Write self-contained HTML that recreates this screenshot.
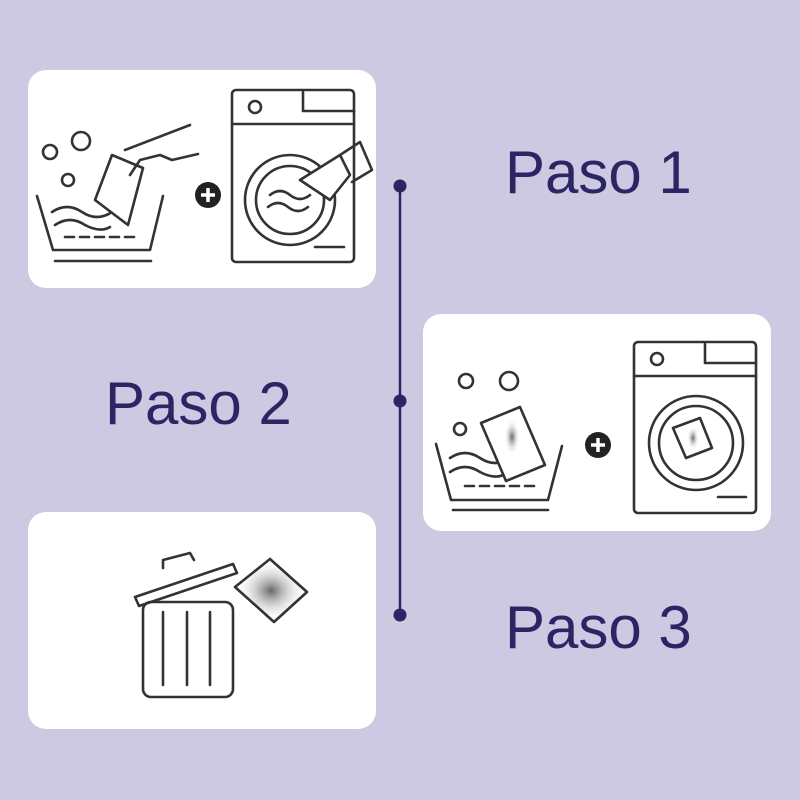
<!DOCTYPE html>
<html><head><style>
html,body{margin:0;padding:0;background:#cdc9e3;}
svg{display:block}
text{font-family:"Liberation Sans",sans-serif;fill:#2b2563;}
</style></head><body>
<svg width="800" height="800" viewBox="0 0 800 800">
<defs>
<radialGradient id="g"><stop offset="0" stop-color="#666"/><stop offset="1" stop-color="#fff" stop-opacity="0"/></radialGradient>
</defs>
<rect width="800" height="800" fill="#cdc9e3"/>
<rect x="28" y="70" width="348" height="218" rx="18" fill="#fff"/>
<rect x="423" y="314" width="348" height="217" rx="18" fill="#fff"/>
<rect x="28" y="512" width="348" height="217" rx="18" fill="#fff"/>
<line x1="400" y1="186" x2="400" y2="615" stroke="#2b2563" stroke-width="2.5"/>
<circle cx="400" cy="186" r="6.5" fill="#2b2563"/>
<circle cx="400" cy="401" r="6.5" fill="#2b2563"/>
<circle cx="400" cy="615" r="6.5" fill="#2b2563"/>
<text x="505" y="193" font-size="60">Paso 1</text>
<text x="105" y="424" font-size="60">Paso 2</text>
<text x="505" y="648" font-size="60">Paso 3</text>

<!-- plus circles -->
<circle cx="208" cy="195" r="13" fill="#222"/>
<path d="M201 195 H215 M208 188 V202" stroke="#fff" stroke-width="3.5"/>
<circle cx="598" cy="445" r="13" fill="#222"/>
<path d="M591 445 H605 M598 438 V452" stroke="#fff" stroke-width="3.5"/>

<g fill="none" stroke="#333" stroke-width="2.6" stroke-linecap="round" stroke-linejoin="round">
<!-- panel 1 -->
<path d="M37 196 L53 250 L150 250 L163 196"/>
<line x1="55" y1="261" x2="151" y2="261"/>
<path d="M65 237 H140" stroke-dasharray="9 6"/>
<circle cx="50" cy="152" r="7"/><circle cx="81" cy="141" r="9"/><circle cx="68" cy="180" r="6"/>
<path d="M52 212 q15 -10 30 0 q15 10 30 0 M55 225 q15 -10 30 0 q15 8 25 2"/>
<path d="M95 200 L112 155 L143 168 L128 225 Z" fill="#fff"/>
<path d="M125 150 L190 125 M130 175 L140 160 L160 155 L172 160 L198 154"/>
<rect x="232" y="90" width="122" height="172" rx="4"/>
<line x1="232" y1="124" x2="354" y2="124"/>
<circle cx="255" cy="107" r="6"/>
<path d="M303 92 V111 H354"/>
<circle cx="290" cy="200" r="45"/>
<circle cx="290" cy="200" r="34"/>
<path d="M270 195 q10 -8 20 0 q10 8 20 0 M268 207 q10 -8 20 0 q10 8 20 0"/>
<line x1="315" y1="247" x2="344" y2="247"/>
<path d="M300 180 L340 155 L350 175 L330 200 Z" fill="#fff"/>
<path d="M340 155 L360 142 L372 170 L352 182"/>
<!-- panel 2 -->
<path d="M436 444 L451 500 L548 500 L562 446"/>
<line x1="453" y1="510" x2="548" y2="510"/>
<path d="M465 486 H540" stroke-dasharray="9 6"/>
<circle cx="466" cy="381" r="7"/><circle cx="509" cy="381" r="9"/><circle cx="460" cy="429" r="6"/>
<path d="M450 458 q15 -10 30 0 q15 10 30 0 M450 472 q15 -10 30 0 q15 8 25 2"/>
<path d="M481 423 L520 407 L545 465 L506 481 Z" fill="#fff"/>
<rect x="634" y="342" width="122" height="171" rx="4"/>
<line x1="634" y1="376" x2="756" y2="376"/>
<circle cx="657" cy="359" r="6"/>
<path d="M705 344 V363 H756"/>
<circle cx="696" cy="443" r="47"/>
<circle cx="696" cy="443" r="37"/>
<path d="M673 428 L700 418 L712 448 L686 458 Z" fill="#fff"/>
<line x1="718" y1="497" x2="746" y2="497"/>
<!-- panel 3 -->
<rect x="143" y="602" width="90" height="95" rx="8"/>
<line x1="163" y1="612" x2="163" y2="685"/><line x1="187" y1="612" x2="187" y2="685"/><line x1="210" y1="612" x2="210" y2="685"/>
<path d="M135 597 L233 564 L237 573 L139 606 Z"/>
<path d="M163 568 L163 560 L190 553 L194 560"/>
<path d="M235 587 L270 559 L307 592 L274 622 Z" fill="url(#g)"/>
</g>
<ellipse cx="512" cy="437" rx="8" ry="18" fill="url(#g)"/>
<ellipse cx="693" cy="438" rx="6" ry="12" fill="url(#g)"/>
</svg>
</body></html>
